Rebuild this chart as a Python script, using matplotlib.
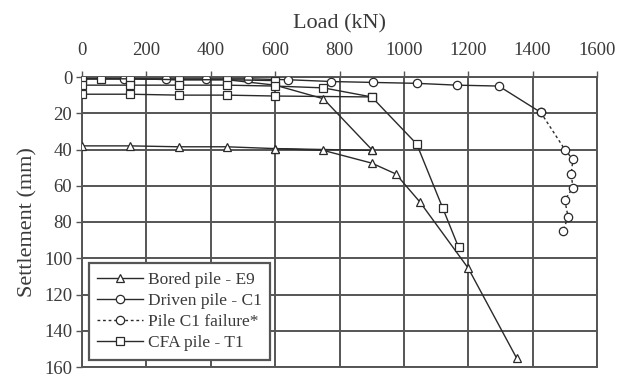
import numpy as np
import matplotlib
matplotlib.use('Agg')
import matplotlib.pyplot as plt
from matplotlib.lines import Line2D

#==============================================================================
#DATA (load in kN, settlement in mm)
#==============================================================================

#bored pile E9: first loading, unloading, reloading to failure
e9_load_a = [0, 150, 300, 450, 600, 750, 900]
e9_sett_a = [1, 1, 1.5, 1.5, 4.5, 12, 40]
e9_load_b = [900, 600]
e9_sett_b = [40.5, 39.5]
e9_load_c = [0, 150, 300, 450, 600, 750, 900, 975, 1050, 1200, 1350]
e9_sett_c = [38, 38, 38.5, 38.5, 39.5, 40.5, 47.5, 53.5, 69, 105.5, 155]

#driven pile C1
c1_load = [0, 130, 260, 385, 515, 640, 775, 905, 1040, 1165, 1295, 1425]
c1_sett = [1, 1, 1, 1, 1, 1.5, 2.5, 3, 3.5, 4.5, 5, 19.5]

#pile C1 failure
c1f_load = [1425, 1500, 1525, 1520, 1525, 1500, 1510, 1495]
c1f_sett = [19.5, 40, 45.5, 53.5, 61, 68, 77, 85]

#CFA pile T1
t1_load_a = [0, 60, 150, 300, 450, 600]
t1_sett_a = [1, 1, 1, 1.5, 1.5, 2]
t1_load_b = [0, 150, 300, 450, 600, 750, 900]
t1_sett_b = [4.5, 4.5, 4.5, 4.5, 5, 6, 11]
t1_load_c = [0, 150, 300, 450, 600, 900, 1040, 1120, 1170]
t1_sett_c = [9.5, 9.5, 10, 10, 10.5, 11, 37, 72, 94]

x_ticks = [0, 200, 400, 600, 800, 1000, 1200, 1400, 1600]
y_ticks = [0, 20, 40, 60, 80, 100, 120, 140, 160]

labels = ['Bored pile - E9', 'Driven pile - C1', 'Pile C1 failure*', 'CFA pile - T1']

#==============================================================================
#SETTINGS
#==============================================================================

plt.rcParams['font.family'] = ['Liberation Serif', 'DejaVu Serif']
tick_font = 13.5
title_font = 16
leg_font = 12.5
lc = '#2a2a2a'
gc = '#555555'
tc = '#3a3a3a'

#==============================================================================
#PLOTTING
#==============================================================================

f = plt.figure(figsize=(6.26, 3.78), dpi=100)
ax = f.add_axes([82/626, 1-367/378, 515/626, 290/378])

mk = dict(color=lc, lw=1.0, ms=6, mfc='white', mec=lc, mew=0.9, zorder=3)

for xx, yy in [(e9_load_a, e9_sett_a), (e9_load_b, e9_sett_b), (e9_load_c, e9_sett_c)]:
    ax.plot(xx, yy, marker='^', **mk)
ax.plot(c1_load, c1_sett, marker='o', **mk)
ax.plot(c1f_load, c1f_sett, marker='o', ls=(0, (2, 2)), **mk)
for xx, yy in [(t1_load_a, t1_sett_a), (t1_load_b, t1_sett_b), (t1_load_c, t1_sett_c)]:
    ax.plot(xx, yy, marker='s', **mk)

#axes
ax.set_xlim(0, 1600)
ax.set_ylim(160, 0)
ax.set_xticks(x_ticks)
ax.set_yticks(y_ticks)
ax.xaxis.tick_top()
ax.xaxis.set_label_position('top')
ax.tick_params(axis='x', labelsize=tick_font, colors=tc, length=4, width=1.0,
               direction='out', pad=9, color=gc)
ax.tick_params(axis='y', labelsize=tick_font, colors=tc, length=4, width=1.0,
               direction='out', pad=3, color=gc)
for s in ax.spines.values():
    s.set_color(gc)
    s.set_linewidth(1.4)
ax.grid(color=gc, linestyle='-', linewidth=1.4)
ax.set_axisbelow(True)

ax.set_xlabel('Load (kN)', fontsize=title_font, color=tc, labelpad=10)
ax.set_ylabel('Settlement (mm)', fontsize=title_font, color=tc, labelpad=5)

#legend
handles = [Line2D([], [], marker='^', **mk),
           Line2D([], [], marker='o', **mk),
           Line2D([], [], marker='o', ls=(0, (2, 2)), **mk),
           Line2D([], [], marker='s', **mk)]
leg = ax.legend(handles, labels, loc='lower left', bbox_to_anchor=(0.013, 0.024),
                borderaxespad=0., fontsize=leg_font, handlelength=2.6,
                handletextpad=0.3, labelspacing=0.28, borderpad=0.5,
                frameon=True, fancybox=False, facecolor='white', edgecolor=gc,
                framealpha=1)
leg.get_frame().set_linewidth(1.6)
for t in leg.get_texts():
    t.set_color(tc)

f.savefig('out.png', dpi=100)
